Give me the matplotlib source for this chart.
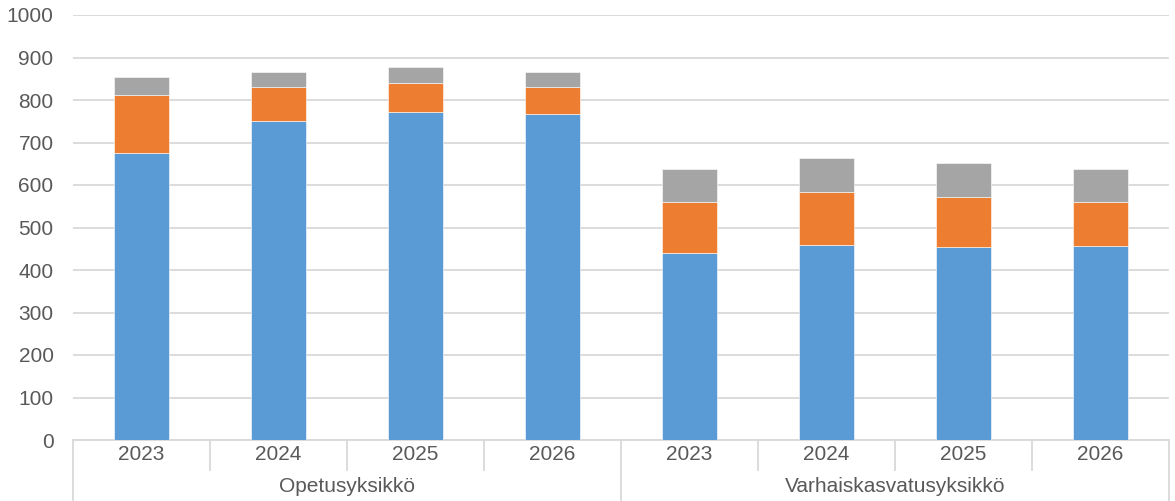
import numpy as np
import matplotlib
matplotlib.use("Agg")
import matplotlib.pyplot as plt
import matplotlib.transforms as mtransforms

# data
years = ["2023", "2024", "2025", "2026", "2023", "2024", "2025", "2026"]
groups = ["Opetusyksikkö", "Varhaiskasvatusyksikkö"]
blue_vals = [676, 751, 772, 768, 439, 458, 454, 456]
orange_vals = [136, 80, 69, 62, 122, 126, 118, 103]
gray_vals = [43, 36, 36, 36, 77, 80, 80, 78]

plt.rcParams["font.family"] = ["Liberation Sans", "DejaVu Sans"]
text_color = "#595959"
grid_color = "#d9d9d9"
fs = 15

fig = plt.figure(figsize=(11.75, 5.01), dpi=100)
ax = fig.add_axes([73 / 1175, 61 / 501, 1096 / 1175, 425 / 501])

x = np.arange(len(years))
blue = np.array(blue_vals)
orange = np.array(orange_vals)
gray = np.array(gray_vals)

w = 0.4
ax.bar(x, blue, width=w, color="#5B9BD5", edgecolor="white", linewidth=0.4, zorder=3)
ax.bar(x, orange, width=w, bottom=blue, color="#ED7D31", edgecolor="white", linewidth=0.4, zorder=3)
ax.bar(x, gray, width=w, bottom=blue + orange, color="#A5A5A5", edgecolor="white", linewidth=0.4, zorder=3)

ax.set_xlim(-0.5, len(years) - 0.5)
ax.set_ylim(0, 1000)
ax.set_yticks(np.arange(0, 1001, 100))
ax.yaxis.grid(True, color=grid_color, linewidth=1.3, zorder=0)
ax.set_axisbelow(True)
ax.tick_params(axis="y", length=0, pad=14, labelsize=fs, labelcolor=text_color)
ax.set_xticks([])

for side in ["top", "right", "left"]:
    ax.spines[side].set_visible(False)
ax.spines["bottom"].set_color(grid_color)
ax.spines["bottom"].set_linewidth(1.3)

# two-level category axis
trans = mtransforms.blended_transform_factory(ax.transData, ax.transAxes)
h = 425.0
for i, yr in enumerate(years):
    ax.text(i, -14 / h, yr, transform=trans, ha="center", va="center",
            fontsize=fs, color=text_color)
for k, g in enumerate(groups):
    ax.text(1.5 + 4 * k, -46 / h, g, transform=trans, ha="center", va="center",
            fontsize=fs, color=text_color)

for xs in [0.5, 1.5, 2.5, 4.5, 5.5, 6.5]:
    ax.plot([xs, xs], [0, -30 / h], transform=trans, color=grid_color,
            linewidth=1.3, clip_on=False)
for xs in [-0.5, 3.5, 7.5]:
    ax.plot([xs, xs], [0, -60 / h], transform=trans, color=grid_color,
            linewidth=1.3, clip_on=False)

fig.savefig("out.png", dpi=100)
